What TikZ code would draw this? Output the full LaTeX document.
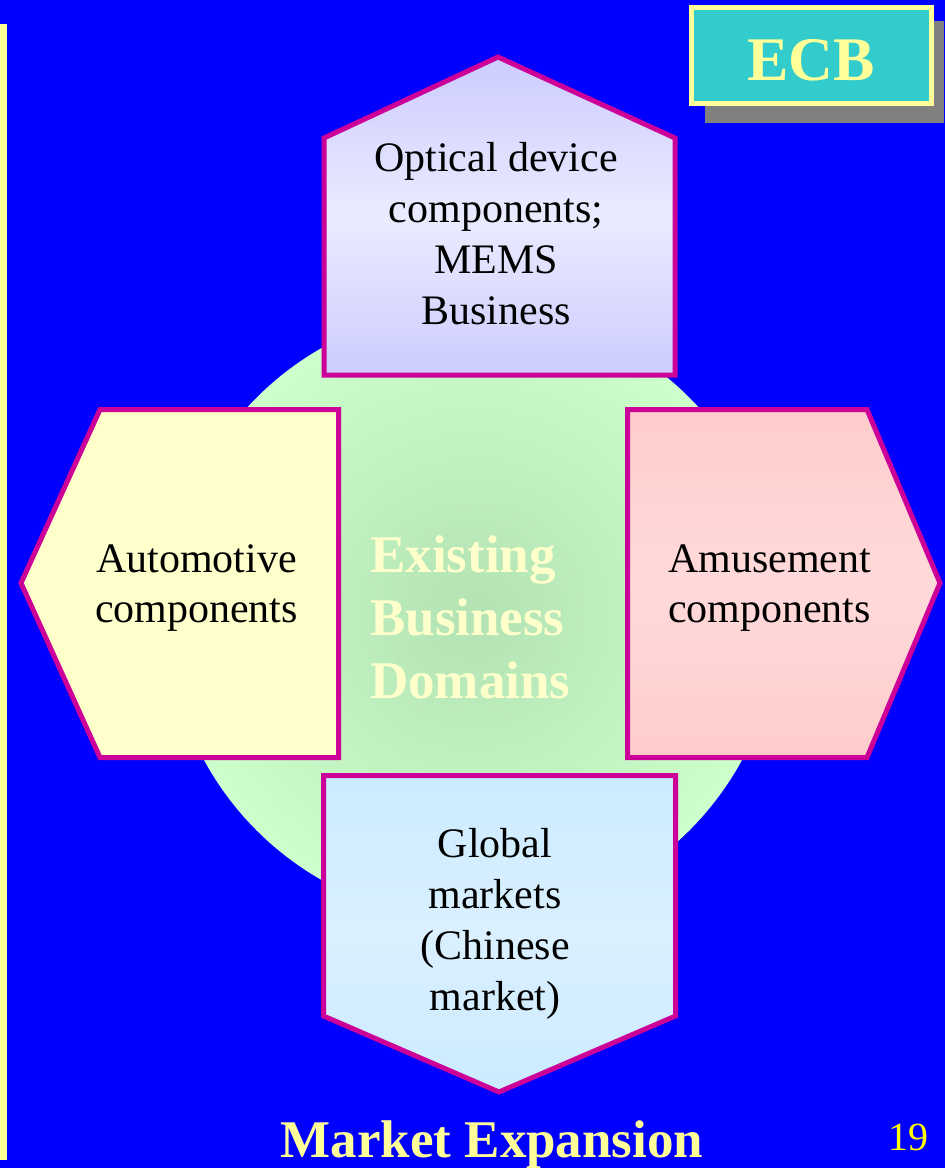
\documentclass[tikz,border=0pt]{standalone}
\usepackage{fontspec}
\setmainfont{Liberation Serif}
\definecolor{bgblue}{HTML}{0000FF}
\definecolor{paleyel}{HTML}{FFFF99}
\definecolor{brightyel}{HTML}{FFFF00}
\definecolor{teal3}{HTML}{33CCCC}
\definecolor{shadowgray}{HTML}{808080}
\definecolor{magline}{HTML}{CC0099}
\definecolor{greenin}{HTML}{B3E2B3}
\definecolor{greenout}{HTML}{CCFFCC}
\definecolor{domtext}{HTML}{FFFFCC}
\definecolor{lavA}{HTML}{CCCCFF}
\definecolor{lavB}{HTML}{EBEBFF}
\definecolor{creamA}{HTML}{FFFFCC}
\definecolor{pinkA}{HTML}{FFCCCC}
\definecolor{pinkB}{HTML}{FFDADA}
\definecolor{skyA}{HTML}{CCEBFF}
\definecolor{skyB}{HTML}{DAF0FF}
\begin{document}
\begin{tikzpicture}[x=1pt,y=-1pt,
  penta/.style={draw=magline, line width=5pt, line join=miter},
  boxtext/.style={align=center, inner sep=0pt, text=black, font=\fontsize{42}{51}\selectfont},
  sidetext/.style={align=center, inner sep=0pt, text=black, font=\fontsize{42}{50}\selectfont}]
  \useasboundingbox (0,0) rectangle (945,1168);
  \fill[bgblue] (0,0) rectangle (945,1168);
  % left yellow rule
  \fill[paleyel] (0,24) rectangle (7,1160);
  % ECB badge
  \fill[shadowgray] (705,21) rectangle (944,123);
  \draw[draw=paleyel, fill=teal3, line width=5pt] (691.5,7.5) rectangle (931.5,103.5);
  \node[anchor=base, inner sep=0pt, text=paleyel, font=\bfseries\fontsize{62}{62}\selectfont] (ecb) at (811,80) {ECB};
  % central circle
  \node[circle, minimum size=612pt, inner sep=0pt, inner color=greenin, outer color=greenout] (dom) at (473,614) {};
  % top pentagon
  \draw[penta, top color=lavA, bottom color=lavA, middle color=lavB]
    (498,57) -- (675,138) -- (675,375) -- (324,375) -- (324,138) -- cycle;
  % left pentagon
  \draw[penta, fill=creamA]
    (21,583) -- (100,409.5) -- (338.5,409.5) -- (338.5,757.5) -- (100,757.5) -- cycle;
  % right pentagon
  \draw[penta, top color=pinkA, bottom color=pinkA, middle color=pinkB]
    (627.5,409.5) -- (867,409.5) -- (940,583) -- (867,757.5) -- (627.5,757.5) -- cycle;
  % bottom pentagon
  \draw[penta, top color=skyA, bottom color=skyA, middle color=skyB]
    (323.5,775.5) -- (675.5,775.5) -- (675.5,1016) -- (499,1092) -- (323.5,1016) -- cycle;
  % texts
  \node[boxtext] (optical) at (496,234) {Optical device\\components;\\MEMS\\Business};
  \node[sidetext] (auto) at (196.5,588.5) {Automotive\\components};
  \node[sidetext] (amuse) at (769.5,588.5) {Amusement\\components};
  \node[boxtext] (global) at (495,923.5) {Global\\markets\\(Chinese\\market)};
  \node[anchor=west, align=left, inner sep=0pt, text=domtext, font=\bfseries\fontsize{53}{63}\selectfont] (domtext) at (370,617) {Existing\\Business\\Domains};
  \node[anchor=base, inner sep=0pt, text=paleyel, font=\bfseries\fontsize{53}{53}\selectfont] (title) at (492,1157) {Market Expansion};
  \node[anchor=base, inner sep=0pt, text=brightyel, font=\fontsize{40}{40}\selectfont] (pagenum) at (908,1150) {19};
\end{tikzpicture}
\end{document}
